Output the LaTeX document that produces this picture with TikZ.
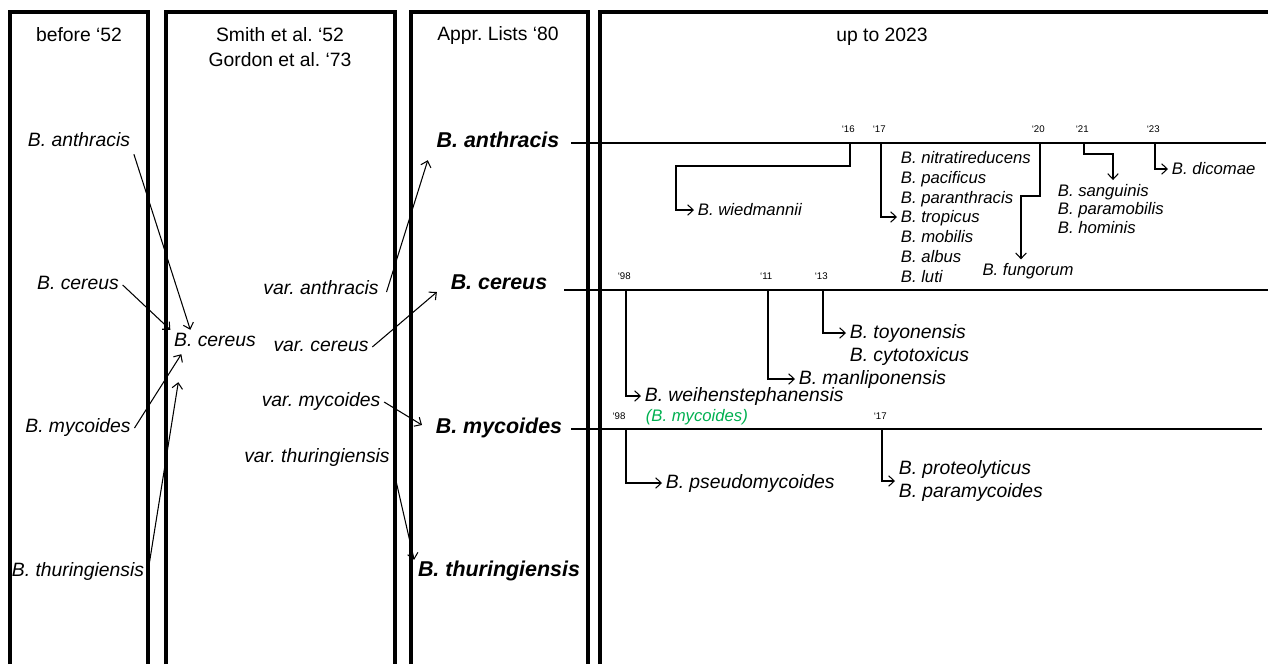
\documentclass[tikz,border=0pt]{standalone}
\usepackage{fontspec}
\setmainfont{Liberation Sans}
\usepackage{xcolor}
\usepackage{tikz}
\usetikzlibrary{arrows.meta,positioning,calc}
\definecolor{mycgreen}{HTML}{00B050}
\frenchspacing

\begin{document}
\begin{tikzpicture}[x=0.02cm, y=-0.02cm,
    colbox/.style={line width=1.8pt},
    hdr/.style={font=\fontsize{11}{14.2}\selectfont, align=center},
    old/.style={font=\fontsize{11}{13}\selectfont\itshape, inner sep=2pt, text height=0.75em, text depth=0.2em},
    appr/.style={font=\fontsize{12.2}{14}\selectfont\bfseries\itshape, inner sep=2pt, text height=0.75em, text depth=0.2em},
    sp/.style={font=\fontsize{9.5}{11.3}\selectfont\itshape, align=left, inner sep=2pt, anchor=west},
    spbig/.style={font=\fontsize{11}{13}\selectfont\itshape, align=left, inner sep=2pt, anchor=west},
    year/.style={font=\fontsize{5.5}{6}\selectfont, inner sep=1pt, xshift=-1pt},
    conn/.style={-{Straight Barb[length=3.2pt,width=6pt]}, line width=0.6pt},
    tl/.style={line width=0.6pt}
]
\useasboundingbox (0,0) rectangle (1268,664);

% Columns - open at the bottom
\draw[colbox] (10,664) -- (10,12) -- (148,12) -- (148,664);
\draw[colbox] (166,664) -- (166,12) -- (395,12) -- (395,664);
\draw[colbox] (411,664) -- (411,12) -- (588,12) -- (588,664);
\draw[colbox] (600,664) -- (600,12) -- (1268,12);

% Column headers
\node[hdr] (hd1) at (79,35) {before ‘52};
\node[hdr] (hd2) at (280,47) {Smith et al. ‘52\\Gordon et al. ‘73};
\node[hdr] (hd3) at (498,35) {Appr. Lists ‘80};
\node[hdr] (hd4) at (882,37) {up to 2023};

% before '52
\node[old] (lant) at (79,142) {B. anthracis};
\node[old] (lcer) at (78,285) {B. cereus};
\node[old] (lmyc) at (78,428) {B. mycoides};
\node[old] (lthu) at (78,572) {B. thuringiensis};

% Smith / Gordon
\node[old] (mcer) at (215,342) {B. cereus};
\node[old] (vant) at (321,290) {var. anthracis};
\node[old] (vcer) at (321,347) {var. cereus};
\node[old] (vmyc) at (321,402) {var. mycoides};
\node[old] (vthu) at (317,458) {var. thuringiensis};

% Approved lists
\node[appr] (bant) at (498,143) {B. anthracis};
\node[appr] (bcer) at (499,285) {B. cereus};
\node[appr] (bmyc) at (499,429) {B. mycoides};
\node[appr] (bthu) at (499,572) {B. thuringiensis};

% merged into B. cereus
\draw[conn] (lant.south east) -- ($(mcer.north west)+(20,0)$);
\draw[conn] (lcer.east) -- (mcer.north west);
\draw[conn] (lmyc.east) -- ($(mcer.south west)+(11,0)$);
\draw[conn] (lthu.east) -- ($(mcer.south west)+(8,28)$);

% split again
\draw[conn] ($(vant.east)+(4,2)$) -- ($(bant.south west)+(-5,5)$);
\draw[conn] (vcer.east) -- ($(bcer.west)+(-10,7)$);
\draw[conn] (vmyc.east) -- ($(bmyc.west)+(-10,-4)$);
\draw[conn] (vthu.south east) -- (bthu.north west);

% Timelines
\coordinate (antEnd) at (1266,143);
\coordinate (cerEnd) at (1268,290);
\coordinate (mycEnd) at (1262,429);
\draw[tl] ($(bant.east)+(8,0)$) -- (antEnd);
\draw[tl] ($(bcer.east)+(13,5)$) -- (cerEnd);
\draw[tl] ($(bmyc.east)+(5,0)$) -- (mycEnd);

% year ticks
\coordinate (t16) at (850,143);
\coordinate (t17) at (881,143);
\coordinate (t20) at (1040,143);
\coordinate (t21) at (1084,143);
\coordinate (t23) at (1155,143);
\coordinate (c98) at (626,290);
\coordinate (c11) at (768,290);
\coordinate (c13) at (823,290);
\coordinate (m98) at (626,429);
\coordinate (m17) at (882,429);

\node[year, above=5pt of t16] (y16) {‘16};
\node[year, above=5pt of t17] (y17) {‘17};
\node[year, above=5pt of t20] (y20) {‘20};
\node[year, above=5pt of t21] (y21) {‘21};
\node[year, above=5pt of t23] (y23) {‘23};
\node[year, above=5pt of c98] (yc98) {‘98};
\node[year, above=5pt of c11] (yc11) {‘11};
\node[year, above=5pt of c13] (yc13) {‘13};
\node[year, above=4pt of m98, xshift=-3pt] (ym98) {‘98};
\node[year, above=4pt of m17] (ym17) {‘17};

% anthracis line species
\node[sp] (wied) at (694,210) {B. wiedmannii};
\node[sp] (st17) at (897,217) {B. nitratireducens\\B. pacificus\\B. paranthracis\\B. tropicus\\B. mobilis\\B. albus\\B. luti};
\node[sp, anchor=center] (fung) at (1028,271) {B. fungorum};
\node[sp, font=\fontsize{9.5}{10.8}\selectfont\itshape] (st21) at (1054,209) {B. sanguinis\\B. paramobilis\\B. hominis};
\node[sp] (dic) at (1168,169) {B. dicomae};

\coordinate (f20) at (1021,196);
\coordinate (f21) at (1113,154);
\draw[conn] (t16) |- (676,166) |- (wied.west);
\draw[conn] (t17) |- (st17.west);
\draw[conn] (t20) |- (f20) -- (f20 |- fung.north);
\draw[conn] (t21) |- (f21) -- (f21 |- st21.north);
\draw[conn] (t23) |- (dic.west);

% cereus line species
\node[spbig] (toyo) at (846,333) {B. toyonensis};
\node[spbig] (cyto) at (846,356) {B. cytotoxicus};
\node[spbig] (manl) at (795,379) {B. manliponensis};
\node[spbig] (weih) at (641,396) {B. weihenstephanensis};
\node[sp, text=mycgreen] (green) at (642,417) {(B. mycoides)};

\draw[conn] (c98) |- (weih.west);
\draw[conn] (c11) |- (manl.west);
\draw[conn] (c13) |- (toyo.west);

% mycoides line species
\node[spbig] (pseu) at (662,483) {B. pseudomycoides};
\node[spbig, font=\fontsize{11}{13}\selectfont\itshape] (st17b) at (895,481) {B. proteolyticus\\B. paramycoides};

\draw[conn] (m98) |- (pseu.west);
\draw[conn] (m17) |- (st17b.west);

\end{tikzpicture}
\end{document}
